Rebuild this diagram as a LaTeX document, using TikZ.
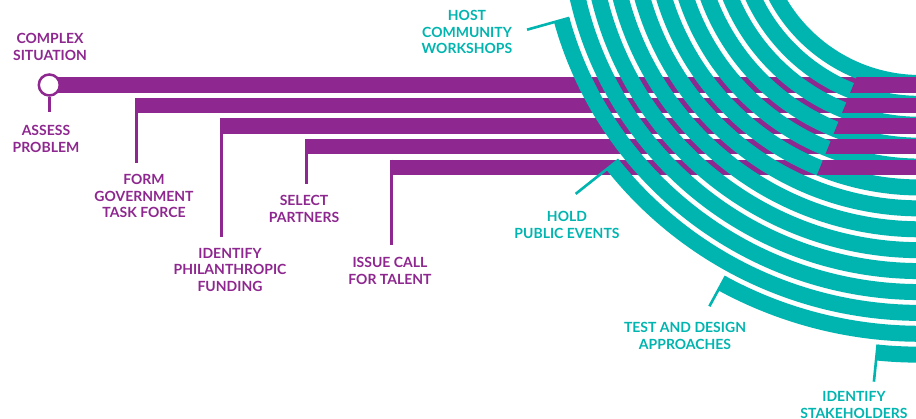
\documentclass[tikz,border=0pt]{standalone}
\usepackage{fontspec}
\setmainfont{Lato}
\usetikzlibrary{positioning}
\definecolor{plum}{RGB}{142,39,143}
\definecolor{lagoon}{RGB}{0,181,176}

% bar number / left end / centre height
\def\bardata{1/49.3/334, 2/135/313.4, 3/220/292.8, 4/305/272.2, 5/390/251.6}

\begin{document}
\begin{tikzpicture}[
  x=1pt, y=1pt,
  stem/.style={draw=plum, line width=2.7pt},
  lbl/.style={
      font=\fontsize{14}{16.5}\selectfont\bfseries,
      align=center,
      inner sep=0pt
  },
  plumlbl/.style={lbl, text=plum},
  lagoonlbl/.style={lbl, text=lagoon},
  band/.style={draw=lagoon, line width=16pt},
  tick/.style={draw=lagoon, line width=2.6pt}
]

\fill[white] (0,0) rectangle (916,419);
\useasboundingbox (0,0) rectangle (916,419);
\clip (0,0) rectangle (916,419);

\coordinate (C) at (920,499);

% straight bars
\foreach \n/\x/\y in \bardata {
  \fill[plum] (\x,\y-7.7) rectangle (916,\y+7.7);
  \coordinate (s\n) at (\x+1.35,\y+7.7);
}

\coordinate (t2) at (136.35,256);
\coordinate (t3) at (221.35,182);
\coordinate (t4) at (306.35,235);
\coordinate (t5) at (391.35,174);

\draw[stem] (s2) -- (t2);
\draw[stem] (s3) -- (t3);
\draw[stem] (s4) -- (t4);
\draw[stem] (s5) -- (t5);

\node[circle, draw=plum, line width=2.5pt, fill=white,
      minimum size=21pt, inner sep=0pt] (start) at (49.3,334) {};
\coordinate (t1) at (49.3,307.3);
\draw[draw=plum, line width=2.5pt] (start.south) -- (t1);

% arcs, one band per step
\foreach \k in {1,...,14} {
  \pgfmathsetmacro\rad{163+(\k-1)*20.9}
  \pgfmathsetmacro\sa{195.6+(\k-11)*22.9}
  \draw[band] ([shift={(\sa:\rad)}]C)
    arc[start angle=\sa, end angle=285, radius=\rad];
}

% bars run over the arcs on the right
\begin{scope}
  \clip (C) -- ([shift={(248:520)}]C)
    arc[start angle=248, end angle=300, radius=520] -- cycle;
  \foreach \n/\x/\y in \bardata
    \fill[plum] (\x,\y-7.7) rectangle (916,\y+7.7);
\end{scope}

% ticks at the start of the outer bands
\foreach \k/\rend/\nm in {11/408/host, 12/440/hold, 13/440/test, 14/464/stake} {
  \pgfmathsetmacro\sa{195.6+(\k-11)*22.9}
  \pgfmathsetmacro\rin{155+(\k-1)*20.9}
  \coordinate (\nm-a) at ([shift={(\sa:\rin)}]C);
  \coordinate (\nm-b) at ([shift={(\sa:\rend)}]C);
  \draw[tick] (\nm-a) -- (\nm-b);
}

\node[plumlbl] (complex) at (50,372) {COMPLEX\\SITUATION};
\node[plumlbl] (assess) at (46,280) {ASSESS\\PROBLEM};
\node[plumlbl] (form) at (144,223) {FORM\\GOVERNMENT\\TASK FORCE};
\node[plumlbl] (funding) at (230,149) {IDENTIFY\\PHILANTHROPIC\\FUNDING};
\node[plumlbl] (select) at (304,210) {SELECT\\PARTNERS};
\node[plumlbl] (talent) at (390,148) {ISSUE CALL\\FOR TALENT};

\node[lagoonlbl] (workshops) at (467,387) {HOST\\COMMUNITY\\WORKSHOPS};
\node[lagoonlbl] (events) at (567,194) {HOLD\\PUBLIC EVENTS};
\node[lagoonlbl] (approaches) at (685,83) {TEST AND DESIGN\\APPROACHES};
\node[lagoonlbl] (stakeholders) at (854,14) {IDENTIFY\\STAKEHOLDERS};

\end{tikzpicture}
\end{document}
